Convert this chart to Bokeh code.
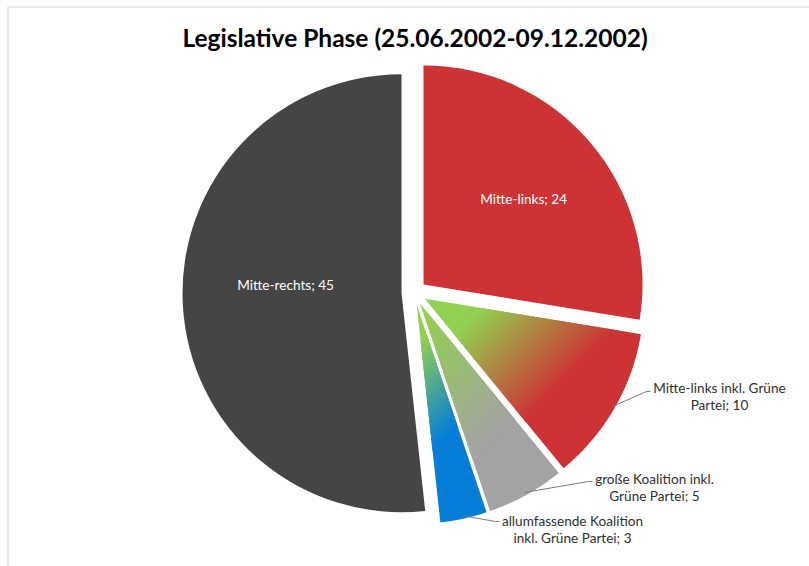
import textwrap
import numpy as np
from bokeh.plotting import figure
from bokeh.models import Range1d, BoxAnnotation, ColumnDataSource
from bokeh.core.properties import value
from bokeh.embed import file_html
from bokeh.resources import INLINE

# ---------------- data ----------------
title = "Legislative Phase (25.06.2002-09.12.2002)"
categories = [
    "Mitte-links",
    "Mitte-links inkl. Grüne Partei",
    "große Koalition inkl. Grüne Partei",
    "allumfassende Koalition inkl. Grüne Partei",
    "Mitte-rechts",
]
values = [24, 10, 5, 3, 45]

# ---------------- style ----------------
W, H = 809, 566
RED = (205, 50, 52)
GREEN = (146, 208, 80)
GRAY = (163, 163, 163)
BLUE = (6, 126, 216)
DARK = (69, 69, 69)
# fill: either a solid colour or a gradient (c0, c1, s_start, s_end) along screen x+y
fills = [
    RED,
    (GREEN, RED, 790, 945),
    (GREEN, GRAY, 740, 930),
    (GREEN, BLUE, 760, 880),
    DARK,
]
label_inside = [True, False, False, False, True]
inside_frac = [0.60, None, None, None, 0.53]
inside_dy = [0, None, None, None, 14]
# outside label: (text centre x, first line y, leader end x, leader end y) in screen px
outside_layout = {
    1: (719, 387, 650, 391),
    2: (654, 478, 592, 481),
    3: (572, 520, 499, 521),
}
FONT = "Lato"
LBL_SIZE = "13.6px"

CX, CY_SCR, R, EXPLODE = 413.5, 292.0, 219.0, 12.5
CY = H - CY_SCR


def rgb_hex(c):
    return "#%02x%02x%02x" % tuple(int(round(v)) for v in c)


def clip(poly, a, b):
    """keep part of polygon where a . p >= b"""
    out = []
    n = len(poly)
    for i in range(n):
        P, Q = poly[i], poly[(i + 1) % n]
        fp = a[0] * P[0] + a[1] * P[1] - b
        fq = a[0] * Q[0] + a[1] * Q[1] - b
        if fp >= 0:
            out.append(P)
        if (fp >= 0) != (fq >= 0):
            t = fp / (fp - fq)
            out.append((P[0] + t * (Q[0] - P[0]), P[1] + t * (Q[1] - P[1])))
    return out


p = figure(
    width=W, height=H,
    x_range=Range1d(0, W), y_range=Range1d(0, H),
    x_axis_type=None, y_axis_type=None,
    toolbar_location=None, output_backend="svg",
    min_border=0, outline_line_color=None,
    background_fill_color="white", border_fill_color="white",
)
p.grid.visible = False

# frame border
p.add_layout(BoxAnnotation(left=7.5, right=W + 20, bottom=-20, top=H - 6.5,
                           fill_alpha=0, line_color="#a0a0a0", line_width=1.6))

total = float(sum(values))
cum = np.concatenate([[0.0], np.cumsum(values)]) / total * 2 * np.pi

wx, wy, wsa, wea, wcol = [], [], [], [], []
gxs, gys, gcol = [], [], []
centers = []
OVER = 2.5
for i, v in enumerate(values):
    t0, t1 = cum[i], cum[i + 1]
    tm = 0.5 * (t0 + t1)
    cx = CX + EXPLODE * np.sin(tm)
    cy = CY + EXPLODE * np.cos(tm)
    centers.append((cx, cy, tm))
    f = fills[i]
    if len(f) == 3:
        wx.append(cx); wy.append(cy)
        wsa.append(np.pi / 2 - t0); wea.append(np.pi / 2 - t1)
        wcol.append(rgb_hex(f))
    else:
        c0, c1, sa, sb = f
        th = np.linspace(t0, t1, 160)
        poly = [(cx, cy)] + [(cx + R * np.sin(t), cy + R * np.cos(t)) for t in th]
        svals = [x + (H - y) for x, y in poly]
        smin, smax = min(svals) - 1, max(svals) + 1
        inner = list(np.linspace(max(sa, smin), min(sb, smax), 70))
        edges = sorted(set([smin] + inner + [smax]))
        nb = len(edges) - 1
        for k in range(nb):
            lo, hi = edges[k], edges[k + 1]
            hi_c = hi + (OVER if k < nb - 1 else 0)
            part = clip(poly, (1, -1), lo - H)
            if len(part) < 3:
                continue
            part = clip(part, (-1, 1), -(hi_c - H))
            if len(part) < 3:
                continue
            smid = 0.5 * (lo + hi)
            tt = min(1.0, max(0.0, (smid - sa) / (sb - sa)))
            col = tuple(c0[j] + tt * (c1[j] - c0[j]) for j in range(3))
            gxs.append([q[0] for q in part]); gys.append([q[1] for q in part])
            gcol.append(rgb_hex(col))

p.wedge(x="x", y="y", radius=R, start_angle="sa", end_angle="ea", direction="clock",
        fill_color="c", line_color=None,
        source=ColumnDataSource(dict(x=wx, y=wy, sa=wsa, ea=wea, c=wcol)))
p.patches(xs="xs", ys="ys", fill_color="c", line_color=None,
          source=ColumnDataSource(dict(xs=gxs, ys=gys, c=gcol)))

# labels
tx, ty, tt = [], [], []      # inside (white)
ox, oy, ot = [], [], []      # outside (dark)
lxs, lys = [], []
for i, (cat, v) in enumerate(zip(categories, values)):
    cx, cy, tm = centers[i]
    full = f"{cat}; {v}"
    if label_inside[i]:
        r = inside_frac[i] * R
        tx.append(cx + r * np.sin(tm)); ty.append(cy + r * np.cos(tm) + inside_dy[i])
        tt.append(full)
    else:
        lines = textwrap.wrap(full, 23, break_on_hyphens=False)
        xc, y1, ex, ey = outside_layout[i]
        for j, ln in enumerate(lines):
            ox.append(xc); oy.append(H - (y1 + 17 * j)); ot.append(ln)
        sx, sy = cx + (R - 3) * np.sin(tm), cy + (R - 3) * np.cos(tm)
        lxs.append([sx, ex - 4, ex]); lys.append([sy, H - ey, H - ey])

p.multi_line(xs=lxs, ys=lys, line_color="#7a7a7a", line_width=1)
p.text(x=tx, y=ty, text=tt, text_color="white", text_font=value(FONT),
       text_font_size=LBL_SIZE, text_align="center", text_baseline="middle")
p.text(x=ox, y=oy, text=ot, text_color="#303030", text_font=value(FONT),
       text_font_size=LBL_SIZE, text_align="center", text_baseline="middle")
p.text(x=[W / 2 + 10], y=[H - 37], text=[title], text_color="black",
       text_font=value(FONT), text_font_style="bold", text_font_size="24.5px",
       text_align="center", text_baseline="middle")

open("out.html", "w").write(file_html(p, INLINE))
